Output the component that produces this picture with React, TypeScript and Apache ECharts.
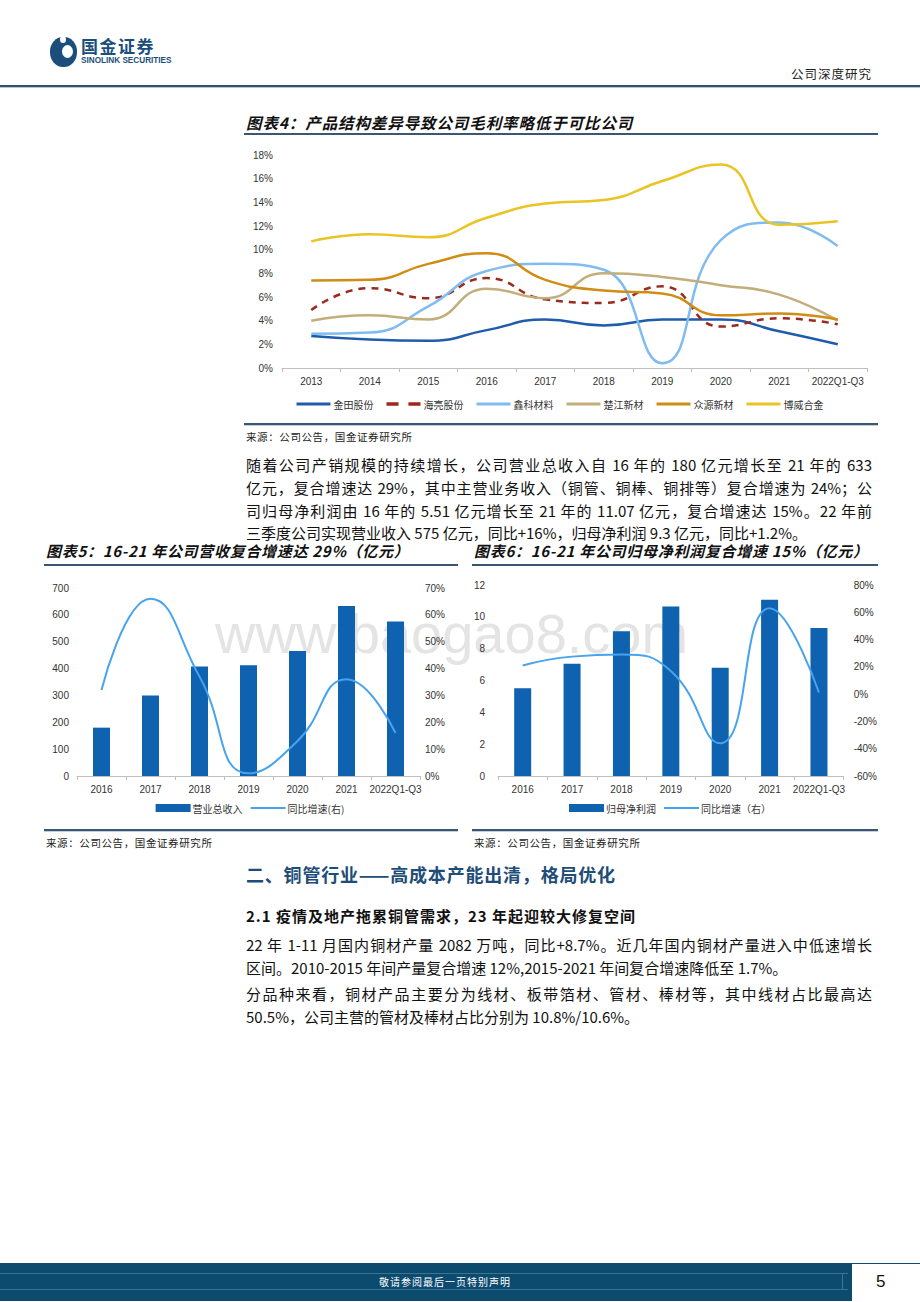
import React, { useEffect, useRef } from 'react';
import * as echarts from 'echarts';

const NUMFONT = "'Liberation Sans', 'Noto Sans CJK SC', sans-serif";
const CJK = "'Noto Sans CJK SC', 'Liberation Sans', sans-serif";

// ---- Chart 4 data (gross margin %, comparable companies)
const years1 = ['2013', '2014', '2015', '2016', '2017', '2018', '2019', '2020', '2021', '2022Q1-Q3'];
const names1 = ['金田股份', '海亮股份', '鑫科材料', '楚江新材', '众源新材', '博威合金'];
const jintian = [2.7, 2.4, 2.3, 3.2, 4.1, 3.6, 4.1, 4.1, 3.1, 2.0];
const hailiang = [4.9, 6.75, 5.9, 7.6, 5.8, 5.5, 6.9, 3.5, 4.2, 3.7];
const xinke = [2.9, 3.0, 5.2, 8.2, 8.8, 8.3, 0.4, 10.8, 12.3, 10.3];
const chujiang = [4.0, 4.45, 4.1, 6.7, 5.9, 8.0, 7.7, 7.0, 6.2, 4.0];
const zhongyuan = [7.4, 7.45, 8.8, 9.7, 7.45, 6.55, 6.3, 4.45, 4.6, 4.1];
const bowei = [10.7, 11.3, 11.05, 12.7, 13.9, 14.2, 15.8, 17.2, 12.1, 12.4];
const colors1 = ['#1F5CAB', '#9B2A1C', '#80BCF0', '#C2AE7A', '#D08C14', '#E9C424'];

// ---- Chart 5 data (revenue, 亿元; yoy %)
const years2 = ['2016', '2017', '2018', '2019', '2020', '2021', '2022Q1-Q3'];
const revenue = [180, 300, 408, 412, 465, 633, 575];
const revenueYoy = [32, 66, 37, 1, 13, 36, 16];

// ---- Chart 6 data (net profit, 亿元; yoy %)
const profit = [5.51, 7.05, 9.1, 10.65, 6.8, 11.07, 9.3];
const profitYoy = [21, 27.5, 29, 17, -36, 63, 1.2];

const BAR = '#0F62AF';
const LINE = '#48A3EF';

const SOLID_ICON = 'path://M0,0h34v3h-34z';
const DASH_ICON = 'path://M0,0h11v3h-11z M20,0h11v3h-11z';

function useChart(ref: React.RefObject<HTMLDivElement>, option: any) {
  useEffect(() => {
    const c = echarts.init(ref.current as HTMLDivElement, null, { renderer: 'svg' });
    c.setOption(option);
    return () => c.dispose();
  }, []);
}

function Chart4() {
  const ref = useRef<HTMLDivElement>(null);
  const datas = [jintian, hailiang, xinke, chujiang, zhongyuan, bowei];
  useChart(ref, {
    animation: false,
    grid: { left: 42, right: 13, top: 15, bottom: 57 },
    legend: {
      top: 254,
      left: 'center',
      itemWidth: 34,
      itemHeight: 8,
      itemGap: 13,
      symbolKeepAspect: true,
      textStyle: { fontSize: 10, color: '#333', fontFamily: CJK, padding: [0, 0, 0, -2] },
      data: names1.map((n, i) => ({ name: n, icon: i === 1 ? DASH_ICON : SOLID_ICON })),
    },
    xAxis: {
      type: 'category',
      data: years1,
      boundaryGap: true,
      axisLine: { lineStyle: { color: '#BFBFBF' } },
      axisTick: { show: true, length: 4, lineStyle: { color: '#BFBFBF' } },
      axisLabel: { interval: 0, fontSize: 10, color: '#333', margin: 8, fontFamily: NUMFONT },
    },
    yAxis: {
      type: 'value',
      min: 0,
      max: 18,
      interval: 2,
      axisLabel: { formatter: '{value}%', fontSize: 10, color: '#333', margin: 9, fontFamily: NUMFONT },
      splitLine: { show: false },
      axisLine: { show: false },
      axisTick: { show: false },
    },
    series: names1.map((n, i) => ({
      name: n,
      type: 'line',
      data: datas[i],
      smooth: 0.5,
      showSymbol: false,
      symbol: 'none',
      color: colors1[i],
      itemStyle: { color: colors1[i] },
      lineStyle: { width: 2.5, color: colors1[i], type: i === 1 ? [7, 6] : 'solid' },
    })),
  });
  return <div ref={ref} style={{ position: 'absolute', left: 240, top: 140, width: 640, height: 285 }} />;
}

function ComboChart(props: {
  left: number; ax: any[]; bars: number[]; line: number[]; barName: string; lineName: string;
  grid: any; leftMargin: number; rightMargin: number;
}) {
  const ref = useRef<HTMLDivElement>(null);
  useChart(ref, {
    animation: false,
    grid: props.grid,
    legend: {
      top: 228,
      left: 'center',
      itemWidth: 35,
      itemHeight: 8,
      itemGap: 8,
      symbolKeepAspect: true,
      textStyle: { fontSize: 10, color: '#333', fontFamily: CJK, padding: [0, 0, 0, -3] },
      data: [
        { name: props.barName, icon: 'rect' },
        { name: props.lineName, icon: 'path://M0,0h35v2.2h-35z' },
      ],
    },
    xAxis: {
      type: 'category',
      data: years2,
      boundaryGap: true,
      axisLine: { lineStyle: { color: '#BFBFBF' } },
      axisTick: { show: true, length: 4, lineStyle: { color: '#BFBFBF' } },
      axisLabel: { interval: 0, fontSize: 10, color: '#333', margin: 8, fontFamily: NUMFONT },
    },
    yAxis: [
      {
        type: 'value',
        min: props.ax[0].min, max: props.ax[0].max, interval: props.ax[0].interval,
        axisLabel: { fontSize: 10, color: '#333', margin: props.leftMargin, fontFamily: NUMFONT },
        splitLine: { show: false }, axisLine: { show: false }, axisTick: { show: false },
      },
      {
        type: 'value',
        min: props.ax[1].min, max: props.ax[1].max, interval: props.ax[1].interval,
        axisLabel: { formatter: '{value}%', fontSize: 10, color: '#333', margin: props.rightMargin, fontFamily: NUMFONT },
        splitLine: { show: false }, axisLine: { show: false }, axisTick: { show: false },
      },
    ],
    series: [
      { name: props.barName, type: 'bar', data: props.bars, barWidth: 17, itemStyle: { color: BAR } },
      {
        name: props.lineName, type: 'line', yAxisIndex: 1, data: props.line, smooth: 0.5,
        showSymbol: false, symbol: 'none', color: LINE, itemStyle: { color: LINE }, lineStyle: { width: 2, color: LINE },
      },
    ],
  });
  return <div ref={ref} style={{ position: 'absolute', left: props.left, top: 570, width: 420, height: 260 }} />;
}

const abs = (s: any): any => ({ position: 'absolute', ...s });

function TextLine(props: {
  y: number; text: string; justify?: boolean; left?: number; width?: number; size?: number;
  bold?: boolean; color?: string; italic?: boolean; spacing?: number;
}) {
  const size = props.size || 15;
  return (
    <div
      style={abs({
        left: props.left ?? 246,
        top: props.y - 11,
        width: props.width ?? 626,
        height: 22,
        lineHeight: '22px',
        fontSize: size,
        fontWeight: props.bold ? 700 : 400,
        fontStyle: props.italic ? 'italic' : 'normal',
        color: props.color || '#111',
        fontFamily: CJK,
        letterSpacing: props.spacing || 0,
        textAlign: 'left',
        textAlignLast: props.justify ? 'justify' : 'auto',
        whiteSpace: props.justify ? 'normal' : 'nowrap',
      })}
    >
      {props.text}
    </div>
  );
}

function Rule(props: { x1: number; x2: number; y: number }) {
  return (
    <>
      <div style={abs({ left: props.x1, top: props.y, width: props.x2 - props.x1, height: 2, background: '#3A5676' })} />
      <div style={abs({ left: props.x1, top: props.y + 2, width: props.x2 - props.x1, height: 1, background: '#C5CFDA' })} />
    </>
  );
}

export default function App() {
  return (
    <div style={abs({ left: 0, top: 0, width: 920, height: 1302, background: '#fff', overflow: 'hidden', fontFamily: CJK })}>
      {/* header */}
      <div style={abs({ left: 50, top: 37, width: 27, height: 30, borderRadius: '48%', background: '#1B4E7B' })} />
      <div style={abs({ left: 62, top: 45, width: 11, height: 13, borderRadius: '50%', background: '#fff' })} />
      <div style={abs({ left: 60, top: 36, width: 6, height: 7, borderRadius: '50%', background: '#fff' })} />
      <div style={abs({ left: 81, top: 36, fontSize: 17, fontWeight: 700, color: '#1B4E7B', lineHeight: '20px', letterSpacing: 1.5 })}>国金证券</div>
      <div style={abs({ left: 81, top: 56, fontSize: 8.2, fontWeight: 700, color: '#1B4E7B', lineHeight: '10px', fontFamily: NUMFONT })}>SINOLINK SECURITIES</div>
      <div style={abs({ left: 780, top: 66, width: 92, textAlign: 'right', fontSize: 12.5, color: '#222', lineHeight: '16px', letterSpacing: 1 })}>公司深度研究</div>
      <div style={abs({ left: 0, top: 85, width: 920, height: 2, background: '#34506F' })} />
      <div style={abs({ left: 0, top: 87, width: 920, height: 1, background: '#B9C6D3' })} />

      {/* chart 4 */}
      <TextLine y={122} text="图表4：产品结构差异导致公司毛利率略低于可比公司" bold italic size={15.5} spacing={0.9} />
      <div style={abs({ left: 244, top: 133, width: 634, height: 2, background: '#3A5676' })} />
      <Chart4 />
      <Rule x1={244} x2={878} y={423} />
      <TextLine y={437} text="来源：公司公告，国金证券研究所" size={10.5} color="#222" spacing={0.6} />

      <TextLine y={465} justify text="随着公司产销规模的持续增长，公司营业总收入自 16 年的 180 亿元增长至 21 年的 633" />
      <TextLine y={488} justify text="亿元，复合增速达 29%，其中主营业务收入（铜管、铜棒、铜排等）复合增速为 24%；公" />
      <TextLine y={511} justify text="司归母净利润由 16 年的 5.51 亿元增长至 21 年的 11.07 亿元，复合增速达 15%。22 年前" />
      <TextLine y={533} text="三季度公司实现营业收入 575 亿元，同比+16%，归母净利润 9.3 亿元，同比+1.2%。" />

      {/* charts 5 & 6 */}
      <TextLine y={551} left={46} width={412} text="图表5：16-21 年公司营收复合增速达 29%（亿元）" bold italic size={15} spacing={0.7} />
      <TextLine y={551} left={474} width={404} text="图表6：16-21 年公司归母净利润复合增速 15%（亿元）" bold italic size={15} spacing={0.7} />
      <div style={abs({ left: 44, top: 564, width: 414, height: 2, background: '#3A5676' })} />
      <div style={abs({ left: 472, top: 564, width: 406, height: 2, background: '#3A5676' })} />

      <div style={abs({ left: 215, top: 606, fontSize: 56, lineHeight: '56px', color: '#E4E4E4', fontFamily: NUMFONT, whiteSpace: 'nowrap' })}>www.baogao8.com</div>

      <ComboChart
        left={40}
        ax={[{ min: 0, max: 700, interval: 100 }, { min: 0, max: 70, interval: 10 }]}
        bars={revenue}
        line={revenueYoy}
        barName="营业总收入"
        lineName="同比增速(右)"
        grid={{ left: 37, right: 40, top: 18, bottom: 54 }}
        leftMargin={8}
        rightMargin={5}
      />
      <ComboChart
        left={460}
        ax={[{ min: 0, max: 12, interval: 2 }, { min: -60, max: 80, interval: 20 }]}
        bars={profit}
        line={profitYoy}
        barName="归母净利润"
        lineName="同比增速（右）"
        grid={{ left: 38, right: 34, top: 15, bottom: 54 }}
        leftMargin={13}
        rightMargin={10}
      />
      <Rule x1={44} x2={458} y={829} />
      <Rule x1={472} x2={878} y={829} />
      <TextLine y={843} left={46} width={400} text="来源：公司公告，国金证券研究所" size={10.5} color="#222" spacing={0.6} />
      <TextLine y={843} left={474} width={400} text="来源：公司公告，国金证券研究所" size={10.5} color="#222" spacing={0.6} />

      {/* section 2 */}
      <TextLine y={874} text="二、铜管行业——高成本产能出清，格局优化" bold size={18} color="#1E4D78" spacing={0.8} />
      <TextLine y={916} text="2.1 疫情及地产拖累铜管需求，23 年起迎较大修复空间" bold size={15} spacing={1} />
      <TextLine y={945} justify text="22 年 1-11 月国内铜材产量 2082 万吨，同比+8.7%。近几年国内铜材产量进入中低速增长" />
      <TextLine y={968} text="区间。2010-2015 年间产量复合增速 12%,2015-2021 年间复合增速降低至 1.7%。" />
      <TextLine y={994} justify text="分品种来看，铜材产品主要分为线材、板带箔材、管材、棒材等，其中线材占比最高达" />
      <TextLine y={1017} text="50.5%，公司主营的管材及棒材占比分别为 10.8%/10.6%。" />

      {/* footer */}
      <div style={abs({ left: 0, top: 1263, width: 852, height: 38, background: '#0C4A6E' })} />
      <div style={abs({ left: 0, top: 1273, width: 848, height: 1, background: '#3C7294' })} />
      <div style={abs({ left: 0, top: 1289, width: 848, height: 1, background: '#3C7294' })} />
      <div style={abs({ left: 842, top: 1273, width: 1, height: 17, background: '#3C7294' })} />
      <div style={abs({ left: 852, top: 1263, width: 68, height: 1, background: '#0C4A6E' })} />
      <div style={abs({ left: 300, top: 1274, width: 290, textAlign: 'center', fontSize: 10, lineHeight: '15px', color: '#fff', letterSpacing: 1 })}>敬请参阅最后一页特别声明</div>
      <div style={abs({ left: 876, top: 1271, fontSize: 17, lineHeight: '22px', color: '#111', fontFamily: NUMFONT })}>5</div>
    </div>
  );
}
